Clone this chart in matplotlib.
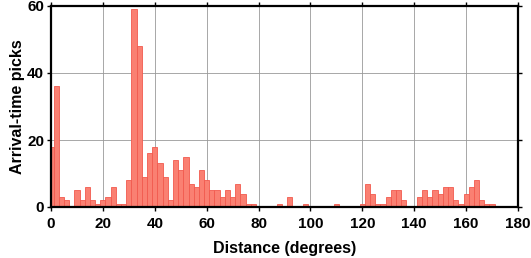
import matplotlib
matplotlib.use("Agg")
import matplotlib.pyplot as plt
import numpy as np

plt.rcParams['font.family'] = ['Liberation Sans', 'DejaVu Sans']
plt.rcParams['font.weight'] = 'bold'

# bin centres (degrees), bin width 2
bin_centers = list(range(0, 172, 2))
counts = [18, 36, 3, 2, 0, 5, 2, 6, 2, 1,      # 0-18
          2, 3, 6, 1, 1, 8, 59, 48, 9, 16,      # 20-38
          18, 13, 9, 2, 14, 11, 15, 7, 6, 11,   # 40-58
          8, 5, 5, 3, 5, 3, 7, 4, 1, 1,         # 60-78
          0, 0, 0, 0, 1, 0, 3, 0, 0, 1,         # 80-98
          0, 0, 0, 0, 0, 1, 0, 0, 0, 0,         # 100-118
          1, 7, 4, 1, 1, 3, 5, 5, 2, 0,         # 120-138
          0, 3, 5, 3, 5, 4, 6, 6, 2, 1,         # 140-158
          4, 6, 8, 2, 1, 1]                     # 160-170
bin_width = 2

fig = plt.figure(figsize=(5.31, 2.58), dpi=100)
ax = fig.add_axes([51/531, 51/258, 467/531, 201/258])

ax.bar(bin_centers, counts, width=bin_width, color='#fa8072', edgecolor='#f25a4e',
       linewidth=0.6, zorder=2)

ax.set_xlim(0, 180)
ax.set_ylim(0, 60)
ax.set_xticks(np.arange(0, 181, 20))
ax.set_yticks(np.arange(0, 61, 20))
ax.grid(True, color='#999999', linewidth=0.6, zorder=0)
ax.set_axisbelow(True)
ax.tick_params(direction='out', length=3, width=1, top=True, right=True,
               labelsize=11)
ax.tick_params(axis='x', pad=4.5)
ax.tick_params(axis='y', pad=2)
for lab in ax.get_xticklabels() + ax.get_yticklabels():
    lab.set_fontweight('bold')
for s in ax.spines.values():
    s.set_linewidth(1.6)
ax.set_xlabel('Distance (degrees)', fontsize=11.5, fontweight='bold', labelpad=7)
ax.set_ylabel('Arrival-time picks', fontsize=11.5, fontweight='bold', labelpad=1.5)

fig.savefig('out.png', dpi=100)
